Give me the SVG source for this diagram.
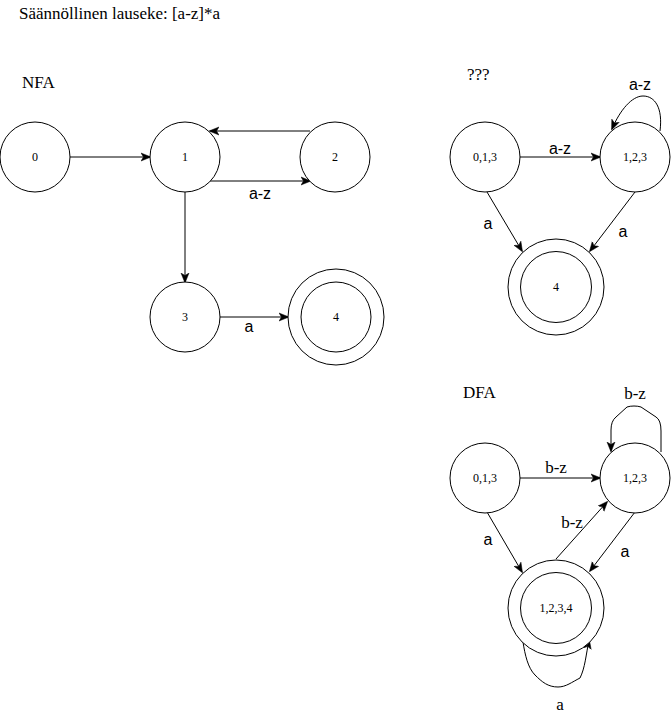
<svg xmlns="http://www.w3.org/2000/svg" width="671" height="713" viewBox="0 0 671 713">
<style>
.n{fill:#fff;stroke:#000;stroke-width:1}
.nl{font-family:"Liberation Serif",serif;font-size:12px;text-anchor:middle;dominant-baseline:central;fill:#000}
.e{fill:none;stroke:#000;stroke-width:1;marker-end:url(#ah)}
.el{font-family:"Liberation Sans",Arial,sans-serif;font-size:16px;text-anchor:middle;fill:#000}
.es{font-family:"Liberation Serif",serif;font-size:17px;text-anchor:middle;fill:#000}
.t{font-family:"Liberation Serif",serif;font-size:17px;fill:#000}
</style>
<defs>
<marker id="ah" viewBox="0 0 10 10" refX="9" refY="5" markerWidth="10" markerHeight="10" markerUnits="userSpaceOnUse" orient="auto">
<path d="M0,1 L10,5 L0,9 L2.5,5 Z" fill="#000" stroke="#000" stroke-width="0.5"/>
</marker>
</defs>
<rect width="671" height="713" fill="#fff"/>
<text class="t" x="19" y="19" font-size="18">Säännöllinen lauseke: [a-z]*a</text>
<text class="t" x="22" y="88">NFA</text>
<text class="t" x="467" y="80">???</text>
<text class="t" x="463" y="398">DFA</text>

<g id="connectors">
<line class="e" x1="70" y1="157" x2="150" y2="157"/>
<line class="e" x1="310" y1="131" x2="210" y2="131"/>
<line class="e" x1="210" y1="181" x2="310" y2="181"/>
<line class="e" x1="185" y1="192" x2="185" y2="282"/>
<line class="e" x1="220" y1="317" x2="288" y2="317"/>
<text class="el" x="260" y="199">a-z</text>
<text class="el" x="249" y="332">a</text>

<line class="e" x1="520" y1="157" x2="600" y2="157"/>
<path class="e" d="M660,131 C663,108 655,96 643,96 C632,96 620,110 612,129"/>
<line class="e" x1="487" y1="192" x2="522" y2="251"/>
<line class="e" x1="635" y1="192" x2="590" y2="251"/>
<text class="el" x="560" y="154">a-z</text>
<text class="el" x="640" y="90">a-z</text>
<text class="el" x="488" y="229">a</text>
<text class="el" x="623" y="237">a</text>

<line class="e" x1="520" y1="478" x2="600" y2="478"/>
<path class="e" d="M661,452 L661,431 Q661,420 656,417 L641,407 Q638,406 634,406 Q630,406 627,407 L616,417 Q611,421 611,430 L611,451"/>
<line class="e" x1="556" y1="559" x2="607" y2="502"/>
<line class="e" x1="487" y1="512" x2="522" y2="572"/>
<line class="e" x1="635" y1="512" x2="590" y2="571"/>
<path class="e" d="M523,642 C525,655 528,668 535,675 C542,682 548,687 558,687 C566,687 572,682 580,678 C585,668 586,655 589,640"/>
<text class="es" x="556" y="473">b-z</text>
<text class="es" x="635" y="399">b-z</text>
<text class="es" x="572" y="528">b-z</text>
<text class="el" x="488" y="545">a</text>
<text class="el" x="625" y="557">a</text>
<text class="es" x="560" y="710">a</text>
</g>

<g id="n0"><circle class="n" cx="35" cy="157" r="35"/><text class="nl" x="35" y="157">0</text></g>
<g id="n1"><circle class="n" cx="185" cy="157" r="35"/><text class="nl" x="185" y="157">1</text></g>
<g id="n2"><circle class="n" cx="335" cy="157" r="35"/><text class="nl" x="335" y="157">2</text></g>
<g id="n3"><circle class="n" cx="185" cy="317" r="35"/><text class="nl" x="185" y="317">3</text></g>
<g id="n4"><circle class="n" cx="336" cy="317" r="48"/><circle class="n" cx="336" cy="317" r="35"/><text class="nl" x="336" y="317">4</text></g>

<g id="q013"><circle class="n" cx="485" cy="157" r="35"/><text class="nl" x="485" y="157">0,1,3</text></g>
<g id="q123"><circle class="n" cx="635" cy="157" r="35"/><text class="nl" x="635" y="157">1,2,3</text></g>
<g id="q4"><circle class="n" cx="556" cy="287" r="48"/><circle class="n" cx="556" cy="287" r="35.5"/><text class="nl" x="556" y="287">4</text></g>

<g id="d013"><circle class="n" cx="485" cy="478" r="35"/><text class="nl" x="485" y="478">0,1,3</text></g>
<g id="d123"><circle class="n" cx="635" cy="478" r="35"/><text class="nl" x="635" y="478">1,2,3</text></g>
<g id="d1234"><circle class="n" cx="556" cy="608" r="48"/><circle class="n" cx="556" cy="608" r="35.5"/><text class="nl" x="556" y="608">1,2,3,4</text></g>
</svg>
